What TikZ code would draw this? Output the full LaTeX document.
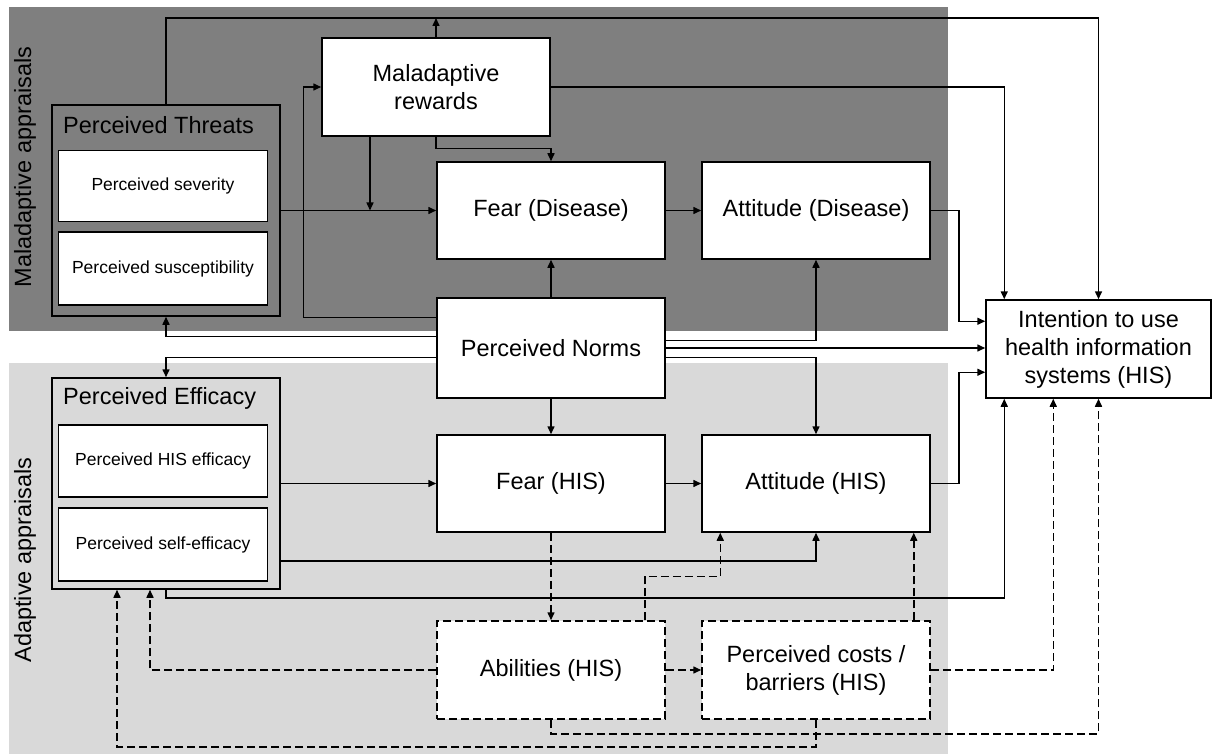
\documentclass[tikz,border=0pt]{standalone}
\usepackage{fontspec}
\setmainfont{Liberation Sans}
\usetikzlibrary{arrows.meta}
\newcommand\fbig{\fontsize{23.5}{28}\selectfont}
\newcommand\fsmall{\fontsize{17.5}{21}\selectfont}
\definecolor{darkbg}{HTML}{7F7F7F}
\definecolor{lightbg}{HTML}{D9D9D9}
\begin{document}
\begin{tikzpicture}[x=1pt,y=-1pt,
  box/.style={draw, fill=white, line width=1.5pt, inner sep=0pt, align=center, font=\fbig},
  sbox/.style={box, font=\fsmall, minimum width=209pt},
  dbox/.style={box, dash pattern=on 8pt off 4pt},
  gbox/.style={draw, line width=1.5pt, inner sep=0pt, minimum width=228pt, minimum height=211pt},
  bigbox/.style={box, minimum width=228pt},
  lab/.style={inner sep=0pt, font=\fbig},
  arr/.style={line width=1.5pt, -{Triangle[length=8pt,width=7pt]}},
  darr/.style={arr, dash pattern=on 8pt off 4pt}]
\useasboundingbox (0,0) rectangle (1213,754);
% backgrounds
\fill[darkbg] (9,7) rectangle (948,331);
\fill[lightbg] (9,363) rectangle (948,754);
\node[lab, rotate=90] (labM) at (25,167) {Maladaptive appraisals};
\node[lab, rotate=90] (labA) at (25,560) {Adaptive appraisals};
% group boxes
\node[gbox] (threats) at (166,210.5) {};
\node[lab, anchor=west] (threatsT) at (63,125) {Perceived Threats};
\node[sbox, minimum height=71pt] (severity) at (163,186) {Perceived severity};
\node[sbox, minimum height=73pt] (suscept) at (163,268.5) {Perceived susceptibility};
\node[gbox] (efficacy) at (166,483.5) {};
\node[lab, anchor=west] (efficacyT) at (63,398) {Perceived Efficacy};
\node[sbox, minimum height=72pt] (hiseff) at (163,461) {Perceived HIS efficacy};
\node[sbox, minimum height=73pt] (selfeff) at (163,544.5) {Perceived self-efficacy};
% main boxes
\node[bigbox, minimum height=98pt] (rewards) at (436,87) {Maladaptive\\rewards};
\node[bigbox, minimum height=97pt] (fearD) at (551,210.5) {Fear (Disease)};
\node[bigbox, minimum height=97pt] (attD) at (816,210.5) {Attitude (Disease)};
\node[bigbox, minimum height=100pt] (norms) at (551,348) {Perceived Norms};
\node[bigbox, minimum height=97pt] (fearH) at (551,483.5) {Fear (HIS)};
\node[bigbox, minimum height=97pt] (attH) at (816,483.5) {Attitude (HIS)};
\node[dbox, minimum width=228pt, minimum height=98pt] (abil) at (551,670) {Abilities (HIS)};
\node[dbox, minimum width=228pt, minimum height=98pt] (costs) at (816,670) {Perceived costs /\\barriers (HIS)};
\node[box, minimum width=225pt, minimum height=98pt] (intention) at (1098.5,349) {Intention to use\\health information\\systems (HIS)};
% helper
\coordinate (ytop) at (0,18);
\coordinate (j1) at (370,210.5);
% solid connectors
\draw[arr] (threats.north) |- (ytop -| intention.north) -- (intention.north);
\draw[arr] (rewards.north) -- (rewards.north |- ytop);
\draw[arr] (rewards.east) -| ([xshift=19pt]intention.north west);
\draw[arr] (j1 |- rewards.south) -- (j1);
\draw[arr] (rewards.south) -- ++(0,12) -| (fearD.north);
\draw[arr] (threats.east) -- (fearD.west);
\draw[arr] ([yshift=-20pt]norms.north west) -| ([xshift=-18pt]rewards.west) -- (rewards.west);
\draw[arr] (norms.north) -- (fearD.south);
\draw[arr] ([yshift=-43pt]norms.north east) -| (attD.south);
\draw[arr] (norms.east) -- (norms.east -| intention.west);
\draw[arr] ([yshift=-60pt]norms.north east) -| (attH.north);
\draw[arr] ([yshift=-39pt]norms.north west) -| (threats.south);
\draw[arr] ([yshift=-60pt]norms.north west) -| (efficacy.north);
\draw[arr] (norms.south) -- (fearH.north);
\draw[arr] (attD.east) -- ++(28,0) |- ([yshift=-22pt]intention.north west);
\draw[arr] (attH.east) -- ++(28,0) |- ([yshift=-73pt]intention.north west);
\draw[arr] (fearD.east) -- (attD.west);
\draw[arr] (fearH.east) -- (attH.west);
\draw[arr] (efficacy.east) -- (fearH.west);
\draw[arr] ([yshift=-77.5pt]efficacy.east) -| (attH.south);
\draw[arr] (efficacy.south) -- ++(0,8) -| ([xshift=19pt]intention.south west);
% dashed connectors
\draw[darr] (fearH.south) -- (abil.north);
\draw[darr] ([xshift=-21pt]abil.north east) -- ++(0,-44) -| ([xshift=19pt]attH.south west);
\draw[darr] (abil.west) -| ([xshift=-16pt]efficacy.south);
\draw[darr] (abil.east) -- (costs.west);
\draw[darr] ([xshift=-17pt]costs.north east) -- ([xshift=-17pt]attH.south east);
\draw[darr] (costs.east) -| ([xshift=68pt]intention.south west);
\draw[darr] (abil.south) -- ++(0,14) -| (intention.south);
\draw[darr] (costs.south) -- ++(0,27) -| ([xshift=-49pt]efficacy.south);
\end{tikzpicture}
\end{document}
